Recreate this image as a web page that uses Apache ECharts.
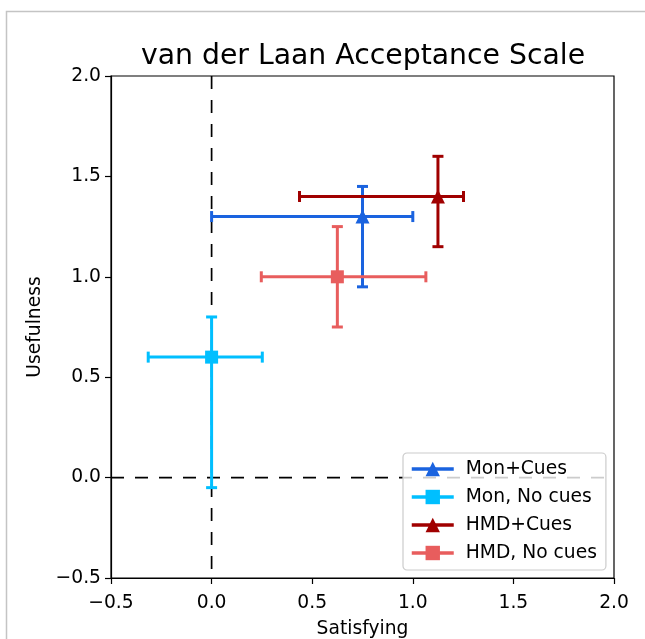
<!DOCTYPE html>
<html>
<head>
<meta charset="utf-8">
<script src="https://cdn.jsdelivr.net/npm/echarts@6/dist/echarts.min.js"></script>
<style>
html,body{margin:0;padding:0;background:#fff;}
#chart{width:645px;height:639px;}
</style>
</head>
<body>
<div id="chart"></div>
<script>
// ---- data ----
const seriesNames = ['Mon+Cues', 'Mon, No cues', 'HMD+Cues', 'HMD, No cues'];
const satisfying  = [0.75, 0.0, 1.125, 0.625];
const usefulness  = [1.30, 0.60, 1.40, 1.00];
const xLow        = [0.00, -0.315, 0.437, 0.247];
const xHigh       = [1.00, 0.252, 1.252, 1.065];
const yLow        = [0.95, -0.05, 1.15, 0.75];
const yHigh       = [1.45, 0.80, 1.60, 1.25];
const markers     = ['triangle', 'rect', 'triangle', 'rect'];
const colors      = ['#1a63df', '#00bfff', '#a00000', '#e85d5d'];
const xTicks      = [-0.5, 0.0, 0.5, 1.0, 1.5, 2.0];
const yTicks      = [-0.5, 0.0, 0.5, 1.0, 1.5, 2.0];
const refLines    = [0.0, 0.0]; // dashed reference lines at x = 0 and y = 0

const fmt = v => (v < 0 ? '\u2212' + Math.abs(v).toFixed(1) : v.toFixed(1));
const FONT = 'DejaVu Sans';
const CAP = 5.5;
const LW = 3;

const series = [];
// reference dashed lines
series.push({
  type: 'custom', silent: true, z: 1,
  data: [refLines],
  renderItem: function (params, api) {
    const cs = params.coordSys;
    const p = api.coord([api.value(0), api.value(1)]);
    const st = {stroke: '#000', lineWidth: 1.7, lineDash: [13, 11]};
    return {type: 'group', children: [
      {type: 'line', shape: {x1: p[0], y1: cs.y, x2: p[0], y2: cs.y + cs.height}, style: st},
      {type: 'line', shape: {x1: cs.x, y1: p[1], x2: cs.x + cs.width, y2: p[1]}, style: st}
    ]};
  }
});
seriesNames.forEach((name, i) => {
  series.push({
    type: 'custom', name: name + '_err', silent: true, z: 2 + i * 2,
    data: [[satisfying[i], usefulness[i], xLow[i], xHigh[i], yLow[i], yHigh[i]]],
    renderItem: function (params, api) {
      const c = api.coord([api.value(0), api.value(1)]);
      const xl = api.coord([api.value(2), api.value(1)]);
      const xh = api.coord([api.value(3), api.value(1)]);
      const yl = api.coord([api.value(0), api.value(4)]);
      const yh = api.coord([api.value(0), api.value(5)]);
      const st = {stroke: colors[i], lineWidth: LW};
      const L = (x1, y1, x2, y2) => ({type: 'line', shape: {x1, y1, x2, y2}, style: st});
      return {type: 'group', children: [
        L(xl[0], c[1], xh[0], c[1]),
        L(c[0], yl[1], c[0], yh[1]),
        L(xl[0], c[1] - CAP, xl[0], c[1] + CAP),
        L(xh[0], c[1] - CAP, xh[0], c[1] + CAP),
        L(c[0] - CAP, yl[1], c[0] + CAP, yl[1]),
        L(c[0] - CAP, yh[1], c[0] + CAP, yh[1])
      ]};
    }
  });
  series.push({
    type: 'line', name: name, z: 3 + i * 2,
    data: [[satisfying[i], usefulness[i]]],
    symbol: markers[i], symbolSize: markers[i] === 'rect' ? 13 : 14,
    showSymbol: true,
    itemStyle: {color: colors[i]},
    lineStyle: {color: colors[i], width: LW},
    animation: false
  });
});

const chart = echarts.init(document.getElementById('chart'), null, {renderer: 'canvas'});
chart.setOption({
  animation: false,
  backgroundColor: '#fff',
  title: {
    text: 'van der Laan Acceptance Scale',
    left: 358, top: 38, textAlign: 'center',
    textStyle: {fontFamily: FONT, fontSize: 28.3, fontWeight: 'normal', color: '#000'}
  },
  graphic: [{
    type: 'rect', silent: true, z: 0,
    shape: {x: 6.5, y: 11.5, width: 700, height: 700},
    style: {fill: 'none', stroke: '#c4c4c4', lineWidth: 1.5}
  }],
  grid: {left: 111, right: 31, top: 76, bottom: 61, show: true, borderColor: '#000', borderWidth: 1.2,
    backgroundColor: 'transparent', containLabel: false, outerBoundsMode: 'none'},
  xAxis: {
    type: 'value', min: -0.5, max: 2.0, interval: 0.5,
    name: 'Satisfying', nameLocation: 'middle', nameGap: 42,
    nameTextStyle: {fontFamily: FONT, fontSize: 18.7, color: '#000'},
    axisLine: {show: true, onZero: false, lineStyle: {color: '#000', width: 1.2}},
    axisTick: {show: true, length: 6, lineStyle: {color: '#000', width: 1.2}},
    axisLabel: {fontFamily: FONT, fontSize: 18.7, color: '#000', margin: 16,
      formatter: v => fmt(v), customValues: xTicks},
    splitLine: {show: false}
  },
  yAxis: {
    type: 'value', min: -0.5, max: 2.0, interval: 0.5,
    name: 'Usefulness', nameLocation: 'middle', nameGap: 65,
    nameTextStyle: {fontFamily: FONT, fontSize: 18.7, color: '#000'},
    axisLine: {show: true, onZero: false, lineStyle: {color: '#000', width: 1.2}},
    axisTick: {show: true, length: 6, lineStyle: {color: '#000', width: 1.2}},
    axisLabel: {fontFamily: FONT, fontSize: 18.7, color: '#000', margin: 10,
      formatter: v => fmt(v), customValues: yTicks},
    splitLine: {show: false}
  },
  legend: {
    data: seriesNames,
    orient: 'vertical',
    left: 403, top: 453,
    padding: [2, 9, 3, 7],
    itemWidth: 42, itemHeight: 18, itemGap: 0, itemTextGap: 14,
    lineStyle: {width: 3.5},
    backgroundColor: 'rgba(255,255,255,0.8)',
    borderColor: '#cccccc', borderWidth: 1.2, borderRadius: 4,
    textStyle: {fontFamily: FONT, fontSize: 18.7, color: '#000', lineHeight: 28, padding: [0, 0, 0, 7]}
  },
  series: series
});
</script>
</body>
</html>
